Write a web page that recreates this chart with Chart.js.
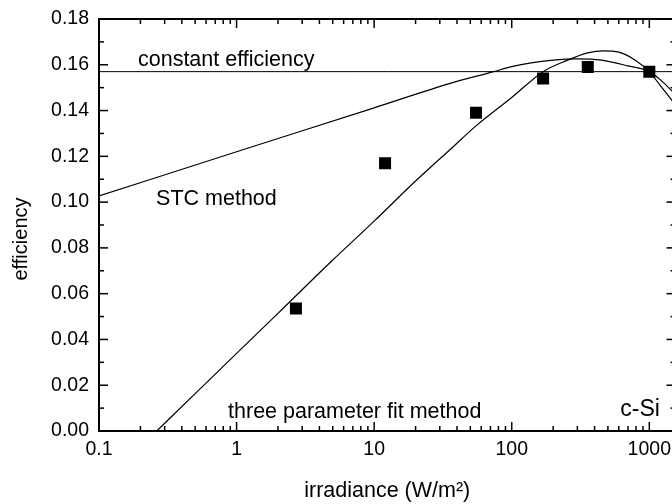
<!DOCTYPE html>
<html>
<head>
<meta charset="utf-8">
<script src="https://cdn.jsdelivr.net/npm/chart.js@4.4.1/dist/chart.umd.min.js"></script>
<style>
html, body { margin: 0; padding: 0; background: #fff; overflow: hidden; }
#wrap { width: 672px; height: 504px; overflow: hidden; }
</style>
</head>
<body>
<div id="wrap"><canvas id="effChart" width="684" height="504"></canvas></div>
<script>
// measured points (squares)
const measuredIrr = [2.7, 12, 55, 169, 357, 1000];
const measuredEff = [0.0535, 0.117, 0.139, 0.154, 0.159, 0.157];

// constant efficiency line
const constIrr = [0.1, 1550];
const constEff = [0.157, 0.157];

// STC method curve
const stcIrr = [0.1, 1, 10, 35.7, 74, 100, 200, 300, 450, 700, 1000, 1200, 1550];
const stcEff = [0.1027, 0.122, 0.1412, 0.1519, 0.157, 0.1592, 0.162, 0.1626, 0.162, 0.1595, 0.157, 0.1535, 0.147];

// three parameter fit curve
const fitIrr = [0.263, 0.5, 1, 2, 5, 10, 20, 35.7, 55, 100, 169, 250, 357, 462, 600, 800, 1000, 1200, 1550];
const fitEff = [0, 0.0163, 0.0339, 0.0514, 0.0747, 0.0917, 0.1092, 0.123, 0.1333, 0.1457, 0.157, 0.1618, 0.1652, 0.1661, 0.1655, 0.1618, 0.157, 0.151, 0.1425];

const xTickLabels = ['0.1', '1', '10', '100', '1000'];

const FONT = '"Liberation Sans", Arial, Helvetica, sans-serif';

const toXY = (xs, ys) => xs.map((v, i) => ({ x: v, y: ys[i] }));

// text placed in data coordinates
const notes = [
    { text: 'constant efficiency', x: 0.192, y: 0.1593, size: 21.5 },
    { text: 'STC method', x: 0.26, y: 0.0987, size: 21.5 },
    { text: 'three parameter fit method', x: 0.867, y: 0.0057, size: 21.5 },
    { text: 'c-Si', x: 615, y: 0.0066, size: 23 }
];

const frameAndTicks = {
    id: 'frameAndTicks',
    afterDraw(chart) {
        const { ctx, chartArea: a, scales: { x, y } } = chart;
        ctx.save();
        ctx.strokeStyle = '#000';
        ctx.lineWidth = 1.5;
        const seg = (x1, y1, x2, y2) => {
            ctx.beginPath();
            ctx.moveTo(x1, y1);
            ctx.lineTo(x2, y2);
            ctx.stroke();
        };

        // log ticks, top and bottom, pointing inward
        const lo = Math.floor(Math.log10(x.min));
        const hi = Math.ceil(Math.log10(x.max));
        for (let d = lo; d <= hi; d++) {
            for (let k = 1; k <= 9; k++) {
                const v = k * Math.pow(10, d);
                if (v < x.min * 0.999 || v > x.max * 1.001) continue;
                const px = x.getPixelForValue(v);
                const len = k === 1 ? 9 : 5;
                seg(px, a.bottom, px, a.bottom - len);
                seg(px, a.top, px, a.top + len);
            }
        }

        // y ticks every 0.01, left and right
        const n = Math.round((y.max - y.min) / 0.01);
        for (let i = 0; i <= n; i++) {
            const py = y.getPixelForValue(y.min + i * 0.01);
            const len = i % 2 === 0 ? 9 : 5;
            seg(a.left, py, a.left + len, py);
            seg(a.right, py, a.right - len, py);
        }

        ctx.lineWidth = 2;
        ctx.strokeRect(a.left, a.top, a.right - a.left, a.bottom - a.top);

        // annotations
        ctx.fillStyle = '#000';
        ctx.textAlign = 'left';
        ctx.textBaseline = 'alphabetic';
        notes.forEach(nt => {
            ctx.font = nt.size + 'px ' + FONT;
            ctx.fillText(nt.text, x.getPixelForValue(nt.x), y.getPixelForValue(nt.y));
        });

        // y axis title
        ctx.font = '20px ' + FONT;
        ctx.translate(27, 239);
        ctx.rotate(-Math.PI / 2);
        ctx.textAlign = 'center';
        ctx.fillText('efficiency', 0, 0);
        ctx.restore();
    }
};

const lineStyle = {
    borderColor: '#000',
    borderWidth: 1.2,
    pointRadius: 0,
    fill: false,
    cubicInterpolationMode: 'monotone'
};

new Chart(document.getElementById('effChart'), {
    type: 'line',
    data: {
        datasets: [
            { label: 'constant efficiency', data: toXY(constIrr, constEff), ...lineStyle, borderWidth: 1 },
            { label: 'STC method', data: toXY(stcIrr, stcEff), ...lineStyle },
            { label: 'three parameter fit method', data: toXY(fitIrr, fitEff), ...lineStyle },
            {
                label: 'measured',
                data: toXY(measuredIrr, measuredEff),
                showLine: false,
                pointStyle: 'rect',
                pointRadius: 8.5,
                pointBackgroundColor: '#000',
                pointBorderColor: '#000',
                pointBorderWidth: 0
            }
        ]
    },
    options: {
        responsive: false,
        animation: false,
        devicePixelRatio: 1,
        layout: { padding: { top: 19, right: 5, left: 0, bottom: 0 } },
        plugins: {
            legend: { display: false },
            tooltip: { enabled: false }
        },
        scales: {
            x: {
                type: 'logarithmic',
                min: 0.1,
                max: 1550,
                grid: { display: false, drawTicks: false },
                border: { display: false },
                ticks: {
                    autoSkip: false,
                    maxRotation: 0,
                    padding: 7,
                    color: '#000',
                    font: { family: FONT, size: 19.5 },
                    callback: (v) => {
                        const l = Math.log10(v);
                        if (Math.abs(l - Math.round(l)) > 1e-9) return null;
                        const i = Math.round(l) + 1;
                        return xTickLabels[i] !== undefined ? xTickLabels[i] : null;
                    }
                },
                title: {
                    display: true,
                    text: 'irradiance (W/m²)',
                    color: '#000',
                    font: { family: FONT, size: 21.5 },
                    padding: { top: 0, bottom: 0 }
                },
                afterFit: (s) => {
                    s.height = 73;
                    s.paddingLeft = 0;
                    s.paddingRight = 0;
                }
            },
            y: {
                min: 0,
                max: 0.18,
                grid: { display: false, drawTicks: false },
                border: { display: false },
                ticks: {
                    stepSize: 0.02,
                    padding: 10,
                    color: '#000',
                    font: { family: FONT, size: 19.5 },
                    callback: (v) => v.toFixed(2)
                },
                afterFit: (s) => {
                    s.width = 99;
                    s.paddingTop = 0;
                    s.paddingBottom = 0;
                }
            }
        }
    },
    plugins: [frameAndTicks]
});
</script>
</body>
</html>
